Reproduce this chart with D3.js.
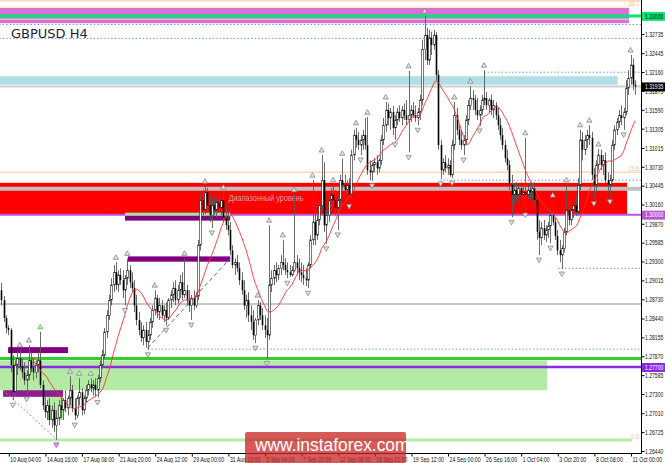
<!DOCTYPE html>
<html><head><meta charset="utf-8">
<script src="https://cdn.jsdelivr.net/npm/d3@7"></script>
<style>html,body{margin:0;padding:0;background:#fff;}svg{display:block;}</style>
</head><body>
<svg id="c" width="665" height="463"></svg>
<script>
// ---------------- DATA (GBPUSD H4) ----------------
const firstOpen = 1.2886;
const closes = [
1.2871,1.2844,1.2829,1.2826,1.2773,1.2732,1.2773,1.2783,1.2771,1.2762,
1.2750,1.2758,1.2780,1.2768,1.2762,1.2773,1.2780,1.2743,1.2712,1.2702,
1.2712,1.2690,1.2705,1.2682,1.2693,1.2712,1.2705,1.2720,1.2708,1.2723,
1.2735,1.2708,1.2697,1.2723,1.2732,1.2705,1.2723,1.2735,1.2744,1.2738,
1.2743,1.2735,1.2753,1.2773,1.2788,1.2823,1.2848,1.2871,1.2894,1.2913,
1.2894,1.2909,1.2901,1.2886,1.2904,1.2916,1.2898,1.2889,1.2863,1.2841,
1.2826,1.2814,1.2826,1.2808,1.2818,1.2838,1.2856,1.2874,1.2853,1.2863,
1.2848,1.2856,1.2844,1.2871,1.2879,1.2889,1.2871,1.2886,1.2898,1.2879,
1.2886,1.2871,1.2863,1.2874,1.2863,1.2877,1.2954,1.3022,1.3007,1.3034,
1.3014,1.2999,1.3014,1.3007,1.3019,1.3010,1.3022,1.2995,1.2984,1.2977,
1.2946,1.2924,1.2928,1.2919,1.2901,1.2886,1.2863,1.2871,1.2848,1.2838,
1.2818,1.2841,1.2863,1.2848,1.2833,1.2826,1.2818,1.2894,1.2904,1.2916,
1.2909,1.2919,1.2928,1.2924,1.2916,1.2913,1.2909,1.2916,1.2928,1.2919,
1.2913,1.2909,1.2904,1.2901,1.2924,1.2962,1.2989,1.2969,1.2992,1.3014,
1.3052,1.2984,1.2999,1.3022,1.3030,1.3022,1.3010,1.3022,1.3052,1.3045,
1.3037,1.3045,1.3030,1.3090,1.3120,1.3113,1.3105,1.3113,1.3120,1.3105,
1.3067,1.3064,1.3075,1.3079,1.3070,1.3082,1.3113,1.3135,1.3158,1.3146,
1.3155,1.3131,1.3143,1.3155,1.3146,1.3158,1.3150,1.3143,1.3150,1.3158,
1.3150,1.3146,1.3155,1.3173,1.3249,1.3271,1.3233,1.3267,1.3256,1.3271,
1.3211,1.3105,1.3067,1.3079,1.3070,1.3075,1.3060,1.3105,1.3150,1.3128,
1.3113,1.3105,1.3113,1.3143,1.3165,1.3176,1.3173,1.3158,1.3150,1.3158,
1.3173,1.3176,1.3165,1.3173,1.3158,1.3165,1.3150,1.3135,1.3120,1.3105,
1.3085,1.3075,1.3045,1.3030,1.3037,1.3030,1.3040,1.3030,1.3034,1.3030,
1.3037,1.3034,1.3040,1.3022,1.2974,1.2965,1.2980,1.2969,1.2977,1.2983,
1.2999,1.2989,1.2968,1.2946,1.2939,1.2949,1.2974,1.3007,1.2992,1.3007,
1.3014,1.3004,1.3045,1.3113,1.3098,1.3113,1.3120,1.3116,1.3060,1.3045,
1.3075,1.3090,1.3075,1.3082,1.3052,1.3045,1.3052,1.3105,1.3128,1.3140,
1.3150,1.3146,1.3155,1.3191,1.3206,1.3226,1.3196,1.31935];
const highs = [
1.2897,1.2877,1.2848,1.2833,1.2829,1.2788,1.2780,1.2793,1.2796,1.2783,
1.2777,1.2765,1.2803,1.2793,1.2783,1.2780,1.2793,1.2823,1.2750,1.2727,
1.2720,1.2723,1.2712,1.2717,1.2705,1.2720,1.2727,1.2723,1.2735,1.2727,
1.2756,1.2743,1.2723,1.2727,1.2753,1.2738,1.2727,1.2743,1.2750,1.2753,
1.2750,1.2753,1.2758,1.2780,1.2796,1.2829,1.2856,1.2879,1.2904,1.2924,
1.2928,1.2916,1.2919,1.2916,1.2909,1.2934,1.2924,1.2913,1.2901,1.2879,
1.2853,1.2838,1.2833,1.2838,1.2826,1.2844,1.2863,1.2886,1.2879,1.2874,
1.2871,1.2863,1.2868,1.2874,1.2886,1.2898,1.2901,1.2894,1.2909,1.2913,
1.2934,1.2894,1.2886,1.2879,1.2886,1.2883,1.2962,1.3030,1.3037,1.3043,
1.3040,1.3030,1.3022,1.3028,1.3025,1.3030,1.3027,1.3034,1.3014,1.3004,
1.2989,1.2954,1.2934,1.2939,1.2928,1.2913,1.2901,1.2879,1.2883,1.2863,
1.2856,1.2844,1.2871,1.2868,1.2859,1.2848,1.2844,1.2984,1.2916,1.2924,
1.2928,1.2924,1.2939,1.2962,1.2934,1.2928,1.2924,1.2922,1.3030,1.2939,
1.2934,1.2928,1.2924,1.2919,1.2928,1.2969,1.3052,1.3007,1.2999,1.3022,
1.3090,1.3079,1.3007,1.3030,1.3040,1.3045,1.3037,1.3030,1.3060,1.3085,
1.3060,1.3052,1.3055,1.3098,1.3128,1.3131,1.3125,1.3120,1.3128,1.3146,
1.3147,1.3082,1.3079,1.3085,1.3090,1.3085,1.3120,1.3146,1.3170,1.3168,
1.3161,1.3164,1.3150,1.3161,1.3165,1.3164,1.3168,1.3173,1.3217,1.3165,
1.3170,1.3165,1.3161,1.3181,1.3264,1.3300,1.3282,1.3279,1.3276,1.3279,
1.3276,1.3218,1.3113,1.3085,1.3090,1.3085,1.3082,1.3113,1.3170,1.3161,
1.3135,1.3128,1.3120,1.3150,1.3173,1.3194,1.3188,1.3181,1.3176,1.3165,
1.3181,1.3218,1.3185,1.3176,1.3181,1.3173,1.3170,1.3161,1.3146,1.3131,
1.3113,1.3098,1.3082,1.3060,1.3045,1.3049,1.3045,1.3049,1.3045,1.3116,
1.3045,1.3049,1.3045,1.3049,1.3030,1.2992,1.2989,1.2992,1.2984,1.2989,
1.3007,1.3022,1.2995,1.2977,1.2962,1.2954,1.2980,1.3045,1.3022,1.3014,
1.3025,1.3030,1.3055,1.3128,1.3125,1.3120,1.3128,1.3135,1.3125,1.3070,
1.3082,1.3099,1.3098,1.3090,1.3094,1.3064,1.3060,1.3113,1.3135,1.3146,
1.3158,1.3165,1.3161,1.3203,1.3218,1.3241,1.3236,1.3203];
const lows = [
1.2863,1.2838,1.2821,1.2818,1.2762,1.2720,1.2727,1.2758,1.2765,1.2753,
1.2743,1.2729,1.2750,1.2762,1.2750,1.2753,1.2762,1.2738,1.2705,1.2693,
1.2690,1.2682,1.2678,1.2672,1.2660,1.2682,1.2693,1.2690,1.2702,1.2697,
1.2712,1.2702,1.2690,1.2693,1.2712,1.2697,1.2699,1.2717,1.2727,1.2732,
1.2727,1.2726,1.2724,1.2747,1.2768,1.2783,1.2814,1.2841,1.2863,1.2883,
1.2886,1.2883,1.2894,1.2874,1.2863,1.2894,1.2889,1.2883,1.2853,1.2833,
1.2818,1.2808,1.2803,1.2799,1.2796,1.2811,1.2829,1.2848,1.2844,1.2841,
1.2844,1.2838,1.2833,1.2841,1.2859,1.2868,1.2863,1.2866,1.2874,1.2871,
1.2874,1.2863,1.2853,1.2841,1.2856,1.2859,1.2871,1.2946,1.2999,1.3001,
1.3007,1.2989,1.2980,1.2999,1.2995,1.3004,1.2999,1.2989,1.2977,1.2969,
1.2939,1.2919,1.2909,1.2913,1.2894,1.2879,1.2856,1.2844,1.2838,1.2826,
1.2811,1.2806,1.2833,1.2841,1.2826,1.2814,1.2783,1.2811,1.2883,1.2894,
1.2898,1.2901,1.2909,1.2916,1.2909,1.2904,1.2906,1.2907,1.2913,1.2909,
1.2901,1.2898,1.2894,1.2892,1.2889,1.2919,1.2954,1.2954,1.2962,1.2984,
1.3007,1.2974,1.2956,1.2989,1.3007,1.3014,1.2999,1.2977,1.3014,1.3037,
1.3030,1.3025,1.3020,1.3025,1.3082,1.3101,1.3098,1.3090,1.3098,1.3098,
1.3060,1.3052,1.3051,1.3064,1.3060,1.3064,1.3075,1.3105,1.3125,1.3135,
1.3128,1.3120,1.3113,1.3135,1.3140,1.3135,1.3143,1.3135,1.3094,1.3140,
1.3146,1.3140,1.3135,1.3143,1.3165,1.3233,1.3226,1.3226,1.3241,1.3249,
1.3203,1.3098,1.3054,1.3060,1.3064,1.3060,1.3057,1.3055,1.3098,1.3120,
1.3105,1.3098,1.3090,1.3105,1.3135,1.3158,1.3158,1.3150,1.3143,1.3134,
1.3150,1.3165,1.3158,1.3155,1.3150,1.3146,1.3143,1.3128,1.3113,1.3098,
1.3079,1.3067,1.3037,1.2996,1.3014,1.3022,1.3019,1.3022,1.3014,1.3007,
1.3022,1.3025,1.3022,1.3014,1.2962,1.2939,1.2954,1.2962,1.2959,1.2965,
1.2957,1.2984,1.2962,1.2939,1.2928,1.2918,1.2943,1.2969,1.2984,1.2984,
1.2995,1.2998,1.2999,1.3037,1.3082,1.3090,1.3101,1.3105,1.3052,1.3024,
1.3034,1.3067,1.3067,1.3060,1.3045,1.3034,1.3027,1.3049,1.3098,1.3120,
1.3131,1.3135,1.3128,1.3150,1.3181,1.3196,1.3188,1.3181];

const xTickIndex = [3,19,35,51,67,83,99,115,131,147,163,179,195,211,227,243,259,275];
const xTickLabels = ["10 Aug 04:00","14 Aug 16:00","17 Aug 08:00","21 Aug 20:00","24 Aug 12:00",
 "29 Aug 00:00","31 Aug 16:00","5 Sep 04:00","7 Sep 20:00","12 Sep 08:00","16 Sep 21:00",
 "19 Sep 12:00","24 Sep 00:00","26 Sep 16:00","1 Oct 04:00","3 Oct 20:00","8 Oct 08:00","11 Oct 00:00"];
const yTickValues = [1.32735,1.32445,1.32160,1.31875,1.31590,1.31305,1.31015,1.30730,1.30445,
 1.30160,1.29870,1.29585,1.29300,1.29015,1.28730,1.28440,1.28155,1.27870,1.27585,1.27300,
 1.27010,1.26725,1.26440];
const maPeriod = 14;

// chart objects (price levels, anchored by bar index)
const zones = [
 {top:1.3312, bot:1.3289, from:-1,   to:274.3, fill:"#DA70D6"},
 {top:1.3209, bot:1.3196, from:-1,   to:269.4, fill:"#B0E0E6"},
 {top:1.3048, bot:1.3001, from:-1,   to:273.5, fill:"#FF0000"},
 {top:1.2780, bot:1.2735, from:-1,   to:238.5, fill:"#B4EBA4"},
 {top:1.2735, bot:1.2690, from:19.9, to:26.9,  fill:"#B4EBA4"}
];
const levels = [
 {p:1.3323,  from:-1,    to:null,  color:"#FFDAB9", w:1.5, dash:null},
 {p:1.33135, from:-1,    to:274.3, color:"#FFDAB9", w:1,   dash:null},
 {p:1.3300,  from:-1,    to:null,  color:"#00E676", w:3,   dash:null},
 {p:1.3295,  from:-1,    to:274.3, color:"#C8C8C8", w:1.5, dash:null},
 {p:1.3287,  from:-1,    to:null,  color:"#6A9EF0", w:1,   dash:"1.5,2"},
 {p:1.3266,  from:-1,    to:null,  color:"#6A9EF0", w:1,   dash:"1.5,2"},
 {p:1.3215,  from:211,   to:null,  color:"#6A9EF0", w:1,   dash:"1.5,2"},
 {p:1.31935, from:-1,    to:null,  color:"#D0D0D0", w:2,   dash:null},
 {p:1.3064,  from:-1,    to:null,  color:"#FFDAB9", w:1.5, dash:null},
 {p:1.3052,  from:191.7, to:null,  color:"#6A9EF0", w:1,   dash:"1.5,2"},
 {p:1.3039,  from:-1,    to:null,  color:"#C0C0C0", w:4,   dash:null},
 {p:1.3000,  from:-1,    to:null,  color:"#BA55D3", w:2,   dash:null},
 {p:1.2919,  from:243.3, to:null,  color:"#6A9EF0", w:1,   dash:"1.5,2"},
 {p:1.2865,  from:-1,    to:null,  color:"#C8C8C8", w:2,   dash:null},
 {p:1.2797,  from:64,    to:null,  color:"#6A9EF0", w:1,   dash:"1.5,2"},
 {p:1.2783,  from:-1,    to:null,  color:"#32CD32", w:3,   dash:null},
 {p:1.2770,  from:-1,    to:null,  color:"#8A2BE2", w:2.5, dash:null},
 {p:1.2660,  from:-1,    to:275.5, color:"#B4EBA4", w:3,   dash:null}
];
const blocks = [
 {top:1.3003, bot:1.2999, from:54,   to:100,  fill:"#90EE90"},
 {top:1.2998, bot:1.2991, from:54,   to:100,  fill:"#800080"},
 {top:1.2937, bot:1.2929, from:55.3, to:100,  fill:"#800080"},
 {top:1.2800, bot:1.2791, from:2.9,  to:29.1, fill:"#800080"},
 {top:1.2735, bot:1.2725, from:0.7,  to:26.9, fill:"#8E1E8E"}
];
const trendLines = [
 {i1:64,  p1:1.2799, i2:100,  p2:1.2934, color:"#4169E1", dash:"4,3"},
 {i1:0.7, p1:1.2735, i2:23.5, p2:1.2663, color:"#FF7070", dash:"2,2"}
];
const fibLabels = [{p:1.33135, t:"38.2"},{p:1.3064, t:"23.6"},{p:1.2660, t:"0.0"}];
const priceTags = [
 {p:1.3300,  bg:"#00E676", fg:"#000"},
 {p:1.3000,  bg:"#BA55D3", fg:"#fff"},
 {p:1.2770,  bg:"#8A2BE2", fg:"#fff"}
];
const zoneText = {i:99.3, p:1.3020, t:"Диапазонный уровень"};
const specialFractals = {up:17, down:24};

// ---------------- DRAW ----------------
const PR = 641, PB = 453;
const FONT = "Liberation Sans, Arial, sans-serif";
const svg = d3.select("#c");
const x = d3.scaleLinear().domain([0, closes.length - 1]).range([1.44, 1.44 + (closes.length - 1) * 2.2875]);
const y = d3.scaleLinear().domain([1.2644, 1.3300]).range([450.5, 15.9]);
const xe = v => v === null ? PR : x(v);

svg.append("defs").append("clipPath").attr("id","plot")
  .append("rect").attr("x",0).attr("y",0).attr("width",PR).attr("height",PB);
const g = svg.append("g").attr("clip-path","url(#plot)");

const bars = closes.map((c,i)=>({i, o: i===0?firstOpen:closes[i-1], h:highs[i], l:lows[i], c}));

g.selectAll("rect.zone").data(zones).join("rect").attr("class","zone")
  .attr("x",d=>xe(d.from)).attr("width",d=>xe(d.to)-xe(d.from))
  .attr("y",d=>y(d.top)).attr("height",d=>y(d.bot)-y(d.top)).attr("fill",d=>d.fill);
g.selectAll("line.lvl").data(levels).join("line").attr("class","lvl")
  .attr("x1",d=>xe(d.from)).attr("x2",d=>xe(d.to))
  .attr("y1",d=>y(d.p)).attr("y2",d=>y(d.p))
  .attr("stroke",d=>d.color).attr("stroke-width",d=>d.w)
  .attr("stroke-dasharray",d=>d.dash);
g.selectAll("rect.blk").data(blocks).join("rect").attr("class","blk")
  .attr("x",d=>x(d.from)).attr("width",d=>x(d.to)-x(d.from))
  .attr("y",d=>y(d.top)).attr("height",d=>y(d.bot)-y(d.top)).attr("fill",d=>d.fill);
g.selectAll("line.tl").data(trendLines).join("line").attr("class","tl")
  .attr("x1",d=>x(d.i1)).attr("y1",d=>y(d.p1)).attr("x2",d=>x(d.i2)).attr("y2",d=>y(d.p2))
  .attr("stroke",d=>d.color).attr("stroke-width",1).attr("stroke-dasharray",d=>d.dash);
g.append("text").attr("transform",`translate(${x(zoneText.i)},${y(zoneText.p)}) scale(0.86,1)`)
  .attr("font-family",FONT).attr("font-size",8.5).attr("fill","#C9A3A3")
  .text(zoneText.t);

// candles
const cg = g.append("g");
cg.selectAll("line.wick").data(bars).join("line").attr("class","wick")
  .attr("x1",d=>Math.round(x(d.i))+0.5).attr("x2",d=>Math.round(x(d.i))+0.5)
  .attr("y1",d=>y(Math.max(d.h,d.o,d.c))).attr("y2",d=>y(Math.min(d.l,d.o,d.c)))
  .attr("stroke","#5a5a5a").attr("stroke-width",0.9);
cg.selectAll("rect.body").data(bars).join("rect").attr("class","body")
  .attr("x",d=>Math.round(x(d.i))-0.3).attr("width",1.6)
  .attr("y",d=>y(Math.max(d.o,d.c)))
  .attr("height",d=>Math.max(0.8, Math.abs(y(d.o)-y(d.c))))
  .attr("fill",d=>d.c>=d.o?"#ffffff":"#000000")
  .attr("stroke",d=>d.c>=d.o?"#222":"none").attr("stroke-width",0.6);

// moving average
const ma = bars.map((b,i)=> i<maPeriod-1 ? null : d3.mean(closes.slice(i-maPeriod+1,i+1)));
g.append("path").datum(bars.filter((b,i)=>ma[i]!==null))
  .attr("d", d3.line().x(d=>x(d.i)).y(d=>y(ma[d.i])))
  .attr("fill","none").attr("stroke","#FF3030").attr("stroke-width",0.9);

// fractals
const ups=[], downs=[];
for (let i=2;i<bars.length-2;i++){
  if (highs[i]>highs[i-1]&&highs[i]>highs[i-2]&&highs[i]>=highs[i+1]&&highs[i]>=highs[i+2]) ups.push(i);
  if (lows[i]<lows[i-1]&&lows[i]<lows[i-2]&&lows[i]<=lows[i+1]&&lows[i]<=lows[i+2]) downs.push(i);
}
const fcol = (i,kind)=> (kind==="u"&&i===specialFractals.up)?["#B0F0A0","#5CB85C"]:
                        (kind==="d"&&i===specialFractals.down)?["#E0A0F0","#9040B0"]:["#E4E4E4","#7A7A7A"];
g.selectAll("path.fu").data(ups).join("path").attr("class","fu")
  .attr("transform",i=>`translate(${x(i)},${y(highs[i])-5})`)
  .attr("d","M0,-2.6L2.6,2L-2.6,2Z").attr("fill",i=>fcol(i,"u")[0]).attr("stroke",i=>fcol(i,"u")[1]).attr("stroke-width",0.7);
g.selectAll("path.fd").data(downs).join("path").attr("class","fd")
  .attr("transform",i=>`translate(${x(i)},${y(lows[i])+5})`)
  .attr("d","M0,2.6L2.6,-2L-2.6,-2Z").attr("fill",i=>fcol(i,"d")[0]).attr("stroke",i=>fcol(i,"d")[1]).attr("stroke-width",0.7);

// fib labels
svg.selectAll("text.fib").data(fibLabels).join("text").attr("class","fib")
  .attr("transform",d=>`translate(639,${y(d.p)-1.2}) scale(0.85,1)`).attr("text-anchor","end")
  .attr("font-family",FONT).attr("font-size",6.5)
  .attr("fill","#F2C29A").text(d=>d.t);

// title
svg.append("text").attr("x",11).attr("y",37.5)
  .attr("font-family","DejaVu Sans, sans-serif").attr("font-size",13)
  .attr("fill","#1E1E3C").text("GBPUSD H4");

// frame
svg.append("line").attr("x1",PR+0.5).attr("x2",PR+0.5).attr("y1",0).attr("y2",PB).attr("stroke","#000");
svg.append("line").attr("x1",0).attr("x2",PR+1).attr("y1",PB+0.5).attr("y2",PB+0.5).attr("stroke","#000");

// y axis
const SX = 0.74;
const yAxis = d3.axisRight(y).tickValues(yTickValues).tickSize(3).tickFormat(d3.format(".5f"));
const ya = svg.append("g").attr("transform",`translate(${PR+0.5},0.5)`).call(yAxis);
ya.select(".domain").remove();
ya.selectAll("line").attr("stroke","#000");
ya.selectAll("text").attr("x",null).attr("dy","0.34em").attr("transform",`translate(3.6,0) scale(${SX},1)`)
  .attr("font-family",FONT).attr("font-size",6.8).attr("fill","#111");

// x axis
const xAxis = d3.axisBottom(x).tickValues(xTickIndex).tickSize(3).tickFormat((d,i)=>xTickLabels[i]);
const xa = svg.append("g").attr("transform",`translate(0.5,${PB+0.5})`).call(xAxis);
xa.select(".domain").remove();
xa.selectAll("line").attr("stroke","#000");
xa.selectAll("text").attr("text-anchor","start").attr("x",null).attr("y",null).attr("dy",null)
  .attr("transform",`translate(1,8.4) scale(0.77,1)`)
  .attr("font-family",FONT).attr("font-size",6.8).attr("fill","#111");

// price tags on the right axis
const tags = priceTags.concat([{p:closes[closes.length-1], bg:"#000", fg:"#fff"}]);
const tg = svg.selectAll("g.tag").data(tags).join("g").attr("class","tag")
  .attr("transform",d=>`translate(${PR+1},${y(d.p)+0.5})`);
tg.append("rect").attr("x",0).attr("y",-4.5).attr("width",24).attr("height",9).attr("fill",d=>d.bg);
tg.append("text").attr("dy","0.34em").attr("transform",`translate(3.1,0) scale(${SX},1)`)
  .attr("font-family",FONT).attr("font-size",6.8).attr("fill",d=>d.fg)
  .text(d=>d3.format(".5f")(d.p));

// watermark
svg.append("rect").attr("x",245).attr("y",432).attr("width",161).attr("height",31).attr("rx",2)
  .attr("fill","rgba(200,35,35,0.75)");
svg.append("text").attr("transform","translate(255,451) scale(0.94,1)").attr("font-family",FONT)
  .attr("font-size",18.5).attr("fill","#fff").text("www.instaforex.com");
</script>
</body></html>
